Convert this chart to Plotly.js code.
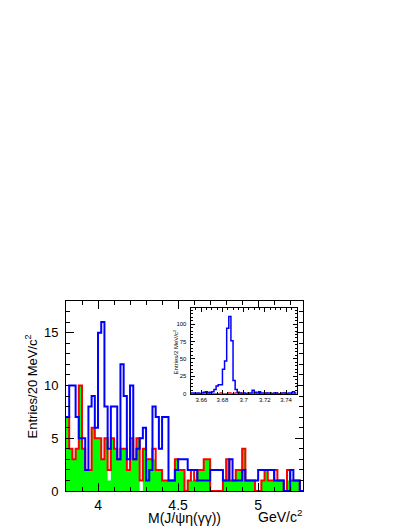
<!DOCTYPE html>
<html>
<head>
<meta charset="utf-8">
<script src="https://cdn.plot.ly/plotly-3.0.1.min.js"></script>
<style>
  html, body { margin: 0; padding: 0; background: #fff; }
  #plot { width: 409px; height: 529px; }
</style>
</head>
<body>
<div id="plot"></div>
<script>
// main histogram, 20 MeV bins from 3.80 GeV
const mainStart = 3.80;
const mainWidth = 0.02;
const blueCounts = [7, 10, 10, 7, 5, 5, 2, 8, 9, 6, 15, 16, 8, 4, 8, 8, 3, 12, 9, 3,
    10, 3, 4, 5, 6, 1, 2, 8, 7, 4, 7, 7, 1, 1, 2, 3, 3, 3, 2, 2,
    2, 1, 1, 1, 1, 2, 2, 2, 2, 1, 1, 3, 1, 1, 1, 2, 1, 1, 1, 1,
    2, 2, 2, 2, 2, 1, 1, 1, 0, 0, 2, 1, 1, 0];
const redCounts = [7, 4, 3, 4, 10, 4, 2, 2, 6, 5, 5, 3, 5, 2, 5, 4, 3, 4, 4, 2,
    5, 3, 5, 1, 4, 3, 3, 4, 2, 2, 1, 1, 1, 1, 3, 2, 2, 0, 1, 2,
    1, 2, 2, 3, 3, 0, 0, 0, 0, 1, 3, 1, 1, 2, 2, 4, 1, 1, 1, 0,
    0, 1, 2, 1, 1, 2, 1, 1, 0, 2, 1, 1, 1, 0];
const greenCounts = [7, 4, 3, 4, 10, 4, 2, 2, 6, 5, 5, 3, 5, 1, 5, 4, 3, 4, 4, 2,
    5, 3, 5, 0, 4, 3, 3, 3, 2, 2, 1, 1, 1, 1, 3, 2, 2, 0, 1, 1,
    1, 2, 2, 3, 3, 0, 0, 0, 0, 1, 3, 1, 1, 2, 2, 4, 1, 1, 1, 0,
    0, 1, 2, 1, 1, 1, 1, 1, 0, 1, 1, 1, 1, 0];

// inset histogram, 2 MeV bins from 3.65 GeV
const insetStart = 3.65;
const insetWidth = 0.002;
const insetBlue = [1, 1, 0, 1, 0, 1, 2, 3, 1, 2, 3, 6, 11, 13, 13, 35, 47, 94, 111, 76,
    19, 6, 2, 1, 0, 1, 0, 1, 1, 5, 2, 1, 3, 1, 1, 0, 1, 1, 0, 1,
    1, 0, 0, 1, 1, 0, 1, 1, 3, 1];
const insetRed = [0, 0, 0, 0, 0, 0, 0, 0, 1, 0, 0, 0, 0, 0, 1, 0, 0, 0, 1, 0,
    0, 1, 0, 0, 1, 0, 0, 0, 0, 0, 1, 0, 0, 0, 0, 1, 0, 0, 0, 0,
    1, 0, 0, 0, 1, 0, 0, 0, 0, 0];

function edges(start, width, n) {
    const e = [];
    for (let i = 0; i <= n; ++i) e.push(+(start + i * width).toFixed(4));
    return e;
}

// step outline: repeat last value so the final bin gets drawn
function stepY(counts) {
    return counts.concat([counts[counts.length - 1]]);
}

const font = 'Liberation Sans, Arial, Helvetica, sans-serif';

function draw() {
    const mx = edges(mainStart, mainWidth, blueCounts.length);
    const ix = edges(insetStart, insetWidth, insetBlue.length);

    const greenTrace = {
        x: mx, y: stepY(greenCounts), type: 'scatter', mode: 'lines',
        line: { shape: 'hv', width: 0, color: 'rgb(0,255,0)' },
        fill: 'tozeroy', fillcolor: 'rgb(0,255,0)',
        xaxis: 'x', yaxis: 'y'
    };
    const redTrace = {
        x: mx, y: stepY(redCounts), type: 'scatter', mode: 'lines',
        line: { shape: 'hv', width: 2, color: 'rgb(255,0,0)' },
        xaxis: 'x', yaxis: 'y'
    };
    const blueTrace = {
        x: mx, y: stepY(blueCounts), type: 'scatter', mode: 'lines',
        line: { shape: 'hv', width: 2, color: 'rgb(0,0,255)' },
        xaxis: 'x', yaxis: 'y'
    };
    const insetRedTrace = {
        x: ix, y: stepY(insetRed), type: 'scatter', mode: 'lines',
        line: { shape: 'hv', width: 1.5, color: 'rgb(255,0,0)' },
        xaxis: 'x2', yaxis: 'y2'
    };
    const insetBlueTrace = {
        x: ix, y: stepY(insetBlue), type: 'scatter', mode: 'lines',
        line: { shape: 'hv', width: 1.5, color: 'rgb(0,0,255)' },
        xaxis: 'x2', yaxis: 'y2'
    };

    const frame = {
        showline: true, linecolor: 'black', linewidth: 1, mirror: 'ticks',
        ticks: 'inside', tickcolor: 'black', showgrid: false, zeroline: false
    };

    const layout = {
        width: 409,
        height: 529,
        margin: { l: 66, r: 106, t: 301, b: 38 },
        paper_bgcolor: 'white',
        plot_bgcolor: 'white',
        showlegend: false,
        hovermode: false,
        font: { family: font, color: 'black' },
        xaxis: Object.assign({}, frame, {
            range: [3.8, 5.28],
            tickvals: [4, 4.5, 5],
            ticktext: ['4', '4.5', '5'],
            ticklen: 8,
            tickfont: { size: 14 },
            ticklabelstandoff: 1,
            minor: { dtick: 0.1, tick0: 3.8, ticklen: 4, ticks: 'inside', tickcolor: 'black' }
        }),
        yaxis: Object.assign({}, frame, {
            range: [0, 18],
            tickvals: [0, 5, 10, 15],
            ticklen: 8,
            tickfont: { size: 13 },
            ticklabelstandoff: 4,
            minor: { dtick: 1, tick0: 0, ticklen: 4, ticks: 'inside', tickcolor: 'black' }
        }),
        xaxis2: Object.assign({}, frame, {
            domain: [0.526, 0.973],
            anchor: 'y2',
            range: [3.65, 3.75],
            tickvals: [3.66, 3.68, 3.7, 3.72, 3.74],
            ticktext: ['3.66', '3.68', '3.7', '3.72', '3.74'],
            ticklen: 4,
            tickfont: { size: 6 },
            minor: { dtick: 0.005, tick0: 3.65, ticklen: 2, ticks: 'inside', tickcolor: 'black' }
        }),
        yaxis2: Object.assign({}, frame, {
            domain: [0.512, 0.963],
            anchor: 'x2',
            range: [0, 123],
            tickvals: [0, 25, 50, 75, 100],
            ticklen: 4,
            tickfont: { size: 6 },
            ticklabelstandoff: 2,
            minor: { dtick: 5, tick0: 0, ticklen: 2, ticks: 'inside', tickcolor: 'black' }
        }),
        annotations: [
            {
                text: 'Entries/20 MeV/c<sup>2</sup>', xref: 'paper', yref: 'paper',
                x: -0.148, y: 0.55, xanchor: 'center', yanchor: 'middle',
                textangle: -90, showarrow: false, font: { size: 13 }
            },
            {
                text: 'M(J/ψη(γγ))', xref: 'paper', yref: 'paper',
                x: 0.501, y: -0.142, xanchor: 'center', yanchor: 'middle',
                showarrow: false, font: { size: 14 }
            },
            {
                text: 'GeV/c<sup>2</sup>', xref: 'paper', yref: 'paper',
                x: 0.903, y: -0.132, xanchor: 'center', yanchor: 'middle',
                showarrow: false, font: { size: 14 }
            },
            {
                text: 'Entries/2 MeV/c<sup>2</sup>', xref: 'paper', yref: 'paper',
                x: 0.462, y: 0.732, xanchor: 'center', yanchor: 'middle',
                textangle: -90, showarrow: false, font: { size: 6 }
            }
        ]
    };

    Plotly.newPlot('plot', [greenTrace, redTrace, blueTrace, insetRedTrace, insetBlueTrace],
        layout, { staticPlot: true, displayModeBar: false });
}

draw();
</script>
</body>
</html>
